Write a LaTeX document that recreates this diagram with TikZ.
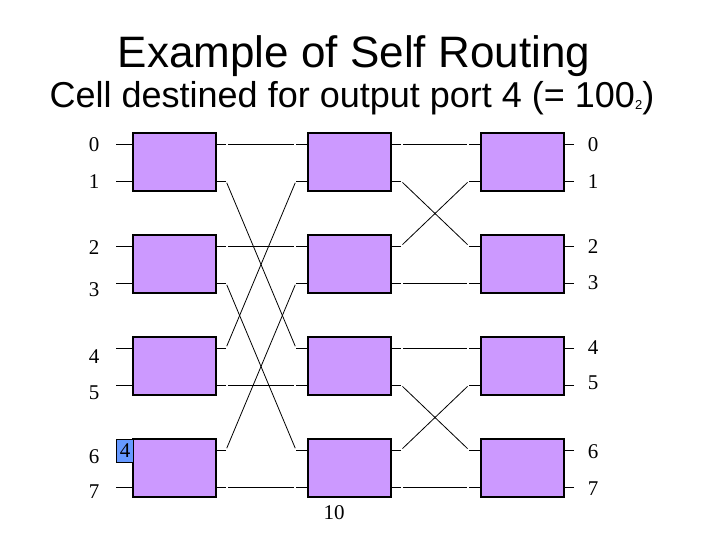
\documentclass[tikz,border=0pt]{standalone}
\usepackage{fontspec}
\setmainfont{Liberation Serif}
\newfontfamily\titlefont{Liberation Sans}
\usepackage{xcolor}
\usetikzlibrary{calc, positioning}
\definecolor{swpurple}{RGB}{204,153,255}
\definecolor{cellblue}{RGB}{102,153,255}

\begin{document}
\begin{tikzpicture}[x=1pt, y=-1pt,
  swbox/.style={draw, fill=swpurple, line width=1.1pt, minimum width=83pt, minimum height=58pt, inner sep=0pt, outer sep=0pt, anchor=north west},
  wire/.style={line width=0.8pt},
  link/.style={line width=0.8pt, shorten >=2pt, shorten <=2pt},
  portlbl/.style={font=\fontsize{21}{24}\selectfont, inner sep=0pt},
  cellbox/.style={draw, fill=cellblue, line width=1.1pt, minimum width=17pt, minimum height=23pt, inner sep=0pt, anchor=north west, font=\fontsize{21}{24}\selectfont}]
  \useasboundingbox (0,0) rectangle (720,540);
  % Titles
  \node[font=\titlefont\fontsize{44}{48}\selectfont, anchor=base] (title) at (354,68) {Example of Self Routing};
  \node[font=\titlefont\fontsize{36}{40}\selectfont, anchor=base] (subtitle) at (352,108) {Cell destined for output port 4 (= 100\raisebox{-1.5pt}{\fontsize{13}{13}\selectfont 2})};
  % Three stages of 2x2 switch elements, with their port stubs
  \foreach \c/\x/\il/\ol in {1/133/17/10, 2/308/12/10, 3/481/12/10} {
    \foreach \r in {0,...,3} {
      \node[swbox] (b\c\r) at (\x,{133+102*\r}) {};
      \coordinate (in\c\r-t) at ($(b\c\r.north west)+(-\il,11)$);
      \coordinate (in\c\r-b) at ($(b\c\r.north west)+(-\il,48)$);
      \coordinate (out\c\r-t) at ($(b\c\r.north east)+(\ol,11)$);
      \coordinate (out\c\r-b) at ($(b\c\r.north east)+(\ol,48)$);
      \draw[wire] (in\c\r-t) -- (in\c\r-t -| b\c\r.west);
      \draw[wire] (in\c\r-b) -- (in\c\r-b -| b\c\r.west);
      \draw[wire] (out\c\r-t) -- (out\c\r-t -| b\c\r.east);
      \draw[wire] (out\c\r-b) -- (out\c\r-b -| b\c\r.east);
    }
  }
  % Stage 1 to stage 2
  \draw[link] (out10-t) -- (in20-t);
  \draw[link] (out10-b) -- (in22-t);
  \draw[link] (out11-t) -- (in21-t);
  \draw[link] (out11-b) -- (in23-t);
  \draw[link] (out12-t) -- (in20-b);
  \draw[link] (out12-b) -- (in22-b);
  \draw[link] (out13-t) -- (in21-b);
  \draw[link] (out13-b) -- (in23-b);
  % Stage 2 to stage 3
  \draw[link] (out20-t) -- (in30-t);
  \draw[link] (out20-b) -- (in31-t);
  \draw[link] (out21-t) -- (in30-b);
  \draw[link] (out21-b) -- (in31-b);
  \draw[link] (out22-t) -- (in32-t);
  \draw[link] (out22-b) -- (in33-t);
  \draw[link] (out23-t) -- (in32-b);
  \draw[link] (out23-b) -- (in33-b);
  % Port numbers
  \foreach \p/\y in {0/145, 1/182, 2/248, 3/290, 4/357, 5/393, 6/457, 7/492}
    \node[portlbl] (inlbl\p) at (94,\y) {\p};
  \foreach \p/\y in {0/145, 1/182, 2/247, 3/283, 4/348, 5/383, 6/452, 7/489}
    \node[portlbl] (outlbl\p) at (593,\y) {\p};
  % The cell waiting at input 6, and its remaining tag bits
  \node[cellbox] (pkt) at (116,439) {4};
  \node[portlbl] (tagbits) at (334,513) {10};
\end{tikzpicture}
\end{document}
